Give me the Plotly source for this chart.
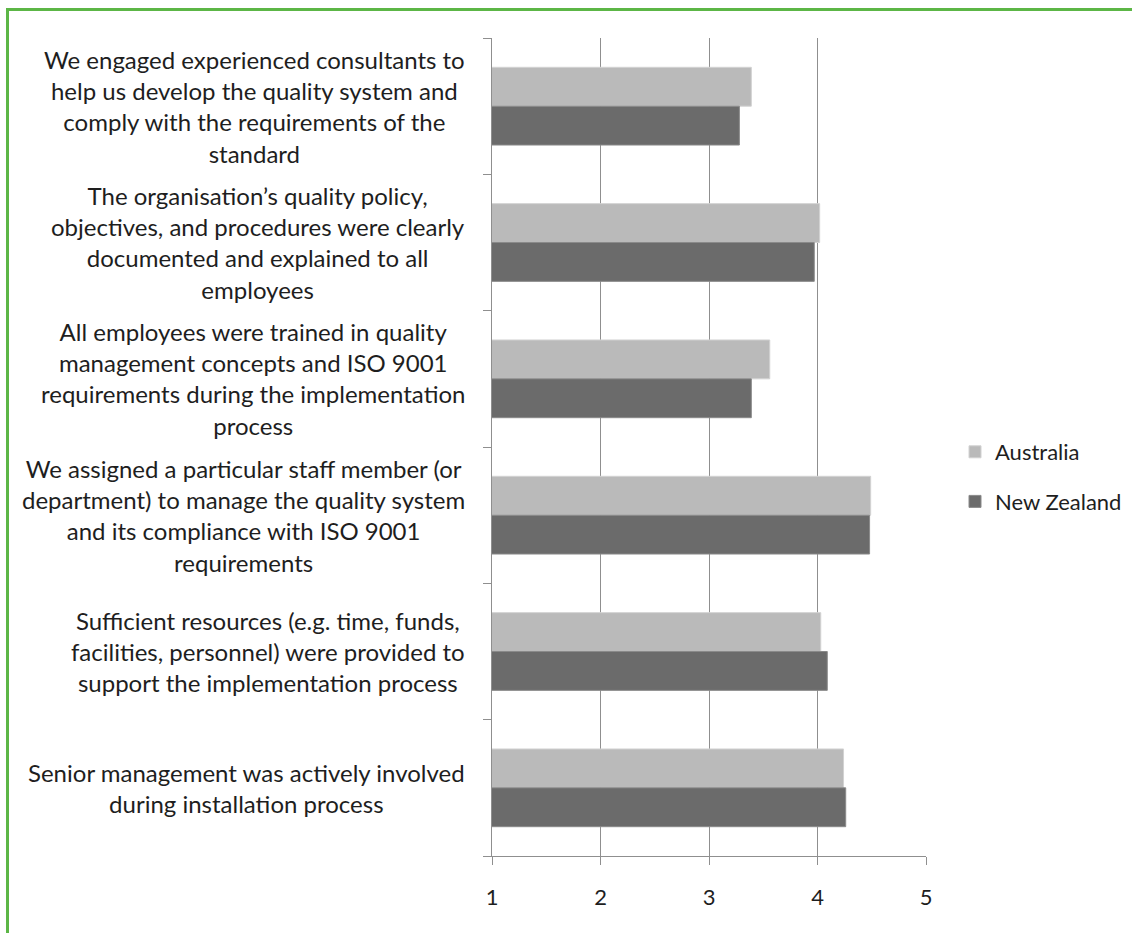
import plotly.graph_objects as go

# Survey statements (top to bottom) and mean ratings per country
statements = [
    "We engaged experienced consultants to<br>help us develop the quality system and<br>comply with the requirements of the<br>standard",
    "The organisation’s quality policy,<br>objectives, and procedures were clearly<br>documented and explained to all<br>employees",
    "All employees were trained in quality<br>management concepts and ISO 9001<br>requirements during the implementation<br>process",
    "We assigned a particular staff member (or<br>department) to manage the quality system<br>and its compliance with ISO 9001<br>requirements",
    "Sufficient resources (e.g. time, funds,<br>facilities, personnel) were provided to<br>support the implementation process",
    "Senior management was actively involved<br>during installation process",
]
australia = [3.39, 4.02, 3.56, 4.49, 4.03, 4.24]
new_zealand = [3.28, 3.97, 3.39, 4.48, 4.09, 4.26]
x_ticks = [1, 2, 3, 4, 5]

FONT = "Lato"
TEXT = "#1e1e1e"
GRID = "#8f8f8f"

cats = list(range(len(statements)))

fig = go.Figure()
fig.add_trace(go.Bar(
    name="Australia", y=cats, x=australia, orientation="h", legendgroup="a",
    marker=dict(color="#bababa", line=dict(color="#d2d2d2", width=1)),
))
fig.add_trace(go.Bar(
    name="New Zealand", y=cats, x=new_zealand, orientation="h", legendgroup="b",
    marker=dict(color="#6b6b6b", line=dict(color="#8a8a8a", width=1)),
))

# Wrapped category labels, lines centred, block right-aligned to the axis
for i, s in enumerate(statements):
    fig.add_annotation(
        text=s, xref="paper", yref="y", x=-0.058, y=i,
        xanchor="right", yanchor="middle", align="center",
        showarrow=False, font=dict(family=FONT, size=24, color=TEXT),
    )

# Green frame along the top and left edges
W, H = 1132, 933
L, R, T, B = 492, 206, 38, 77
pw, ph = W - L - R, H - T - B
def px(x):
    return (x - L) / pw
def py(y):
    return (H - B - y) / ph
frame = "#5cb646"
fig.add_shape(type="line", xref="paper", yref="paper",
              x0=px(7.5), x1=px(1132), y0=py(9.5), y1=py(9.5),
              line=dict(color=frame, width=3))
fig.add_shape(type="line", xref="paper", yref="paper",
              x0=px(7.5), x1=px(7.5), y0=py(8), y1=py(933),
              line=dict(color=frame, width=3))

fig.update_layout(
    width=W, height=H, autosize=False,
    margin=dict(l=L, r=R, t=T, b=B, pad=0, autoexpand=False),
    paper_bgcolor="white", plot_bgcolor="white",
    barmode="group", bargap=0.43, bargroupgap=0,
    font=dict(family=FONT, color=TEXT),
    legend=dict(
        x=955 / W, y=1 - 477 / H, xref="container", yref="container",
        xanchor="left", yanchor="middle",
        font=dict(family=FONT, size=22, color=TEXT),
        tracegroupgap=18, itemwidth=30, traceorder="grouped",
    ),
    xaxis=dict(
        range=[1, 5], tickvals=x_ticks, ticktext=[str(v) for v in x_ticks],
        showgrid=True, gridcolor=GRID, gridwidth=1,
        showline=True, linecolor=GRID, linewidth=1,
        ticks="outside", ticklen=8, tickcolor=GRID,
        tickfont=dict(family=FONT, size=22, color=TEXT),
        ticklabelstandoff=14, zeroline=False, fixedrange=True,
    ),
    yaxis=dict(
        type="category", range=[len(cats) - 0.5, -0.5],
        tickvals=cats, ticktext=[""] * len(cats),
        tickson="boundaries", ticks="outside", ticklen=8, tickcolor=GRID,
        showline=True, linecolor=GRID, linewidth=1,
        showgrid=False, zeroline=False, fixedrange=True,
    ),
)

fig.write_html("out.html", config={"responsive": False})
